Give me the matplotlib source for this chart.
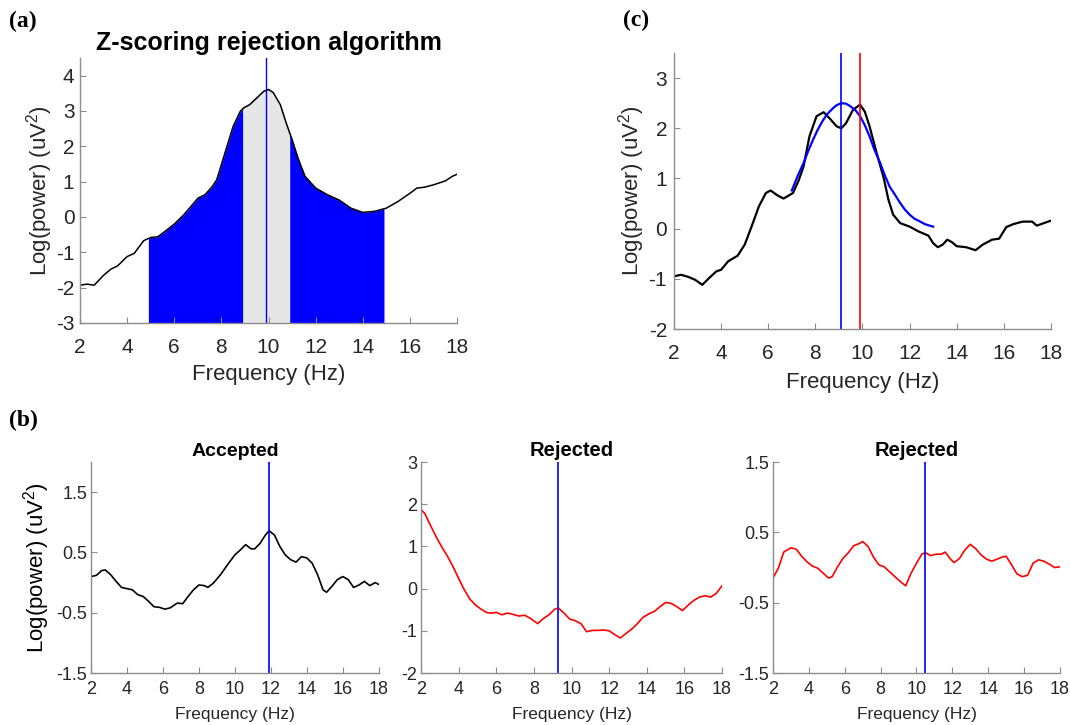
import numpy as np
import matplotlib
matplotlib.use('Agg')
import matplotlib.pyplot as plt

plt.rcParams['font.family'] = ['Liberation Sans', 'DejaVu Sans']
plt.rcParams['mathtext.fontset'] = 'custom'
plt.rcParams['mathtext.rm'] = 'Liberation Sans'
plt.rcParams['axes.unicode_minus'] = False
plt.rcParams['lines.solid_joinstyle'] = 'round'

# ---------------- datos ----------------
# (a) espectro con bandas de z-score
freq_a = [2, 2.3, 2.6, 3, 3.3, 3.6, 4, 4.3, 4.7, 5, 5.3, 5.6, 6, 6.4, 6.8, 7, 7.3, 7.6,
          7.8, 8.15, 8.5, 8.8, 8.95, 9.2, 9.5, 9.8, 10, 10.2, 10.5, 10.75, 11, 11.25, 11.55,
          12, 12.5, 13, 13.5, 14, 14.5, 15, 15.5, 16, 16.3, 16.6, 17, 17.5, 17.8, 18]
pow_a = [-1.93, -1.90, -1.93, -1.65, -1.48, -1.38, -1.12, -1.03, -0.67, -0.58, -0.56, -0.41,
         -0.20, 0.06, 0.37, 0.53, 0.63, 0.85, 1.05, 1.81, 2.57, 2.99, 3.09, 3.18, 3.37, 3.56,
         3.61, 3.52, 3.18, 2.66, 2.19, 1.67, 1.15, 0.82, 0.63, 0.48, 0.25, 0.13, 0.16, 0.25,
         0.44, 0.67, 0.82, 0.84, 0.91, 1.02, 1.15, 1.21]
pico_a = 9.9
banda_ext = [4.9, 14.9]
banda_int = [8.9, 10.9]

# (c) espectro con dos picos y ajuste
freq_c = [2, 2.3, 2.6, 2.9, 3.2, 3.5, 3.8, 4, 4.3, 4.7, 5, 5.3, 5.6, 5.9, 6.1, 6.4, 6.65,
          7.05, 7.3, 7.5, 7.75, 8.05, 8.35, 8.6, 8.9, 9.1, 9.3, 9.6, 9.9, 10.1, 10.3, 10.6,
          10.9, 11.1, 11.3, 11.6, 12, 12.4, 12.8, 13, 13.2, 13.4, 13.6, 13.8, 14, 14.4, 14.8,
          15.1, 15.5, 15.8, 16.1, 16.4, 16.8, 17.2, 17.4, 17.7, 18]
pow_c = [-0.95, -0.92, -0.96, -1.02, -1.12, -0.98, -0.85, -0.82, -0.65, -0.54, -0.32, 0.05,
         0.44, 0.71, 0.76, 0.66, 0.60, 0.71, 0.97, 1.24, 1.84, 2.24, 2.32, 2.20, 2.04, 2.00,
         2.10, 2.37, 2.47, 2.33, 2.04, 1.51, 1.01, 0.58, 0.28, 0.11, 0.04, -0.06, -0.14,
         -0.29, -0.37, -0.32, -0.22, -0.27, -0.35, -0.37, -0.43, -0.32, -0.22, -0.20, 0.03,
         0.09, 0.14, 0.14, 0.06, 0.11, 0.16]
freq_fit = [7.0, 7.25, 7.5, 7.7, 7.9, 8.1, 8.3, 8.5, 8.75, 8.9, 9.1, 9.3, 9.45, 9.7, 9.9,
            10.1, 10.3, 10.5, 10.75, 10.95, 11.15, 11.4, 11.6, 11.8, 12.0, 12.2, 12.45, 12.65,
            12.85, 13.0]
pow_fit = [0.76, 1.05, 1.31, 1.55, 1.77, 1.97, 2.14, 2.28, 2.40, 2.46, 2.50, 2.49, 2.45, 2.36,
           2.24, 2.06, 1.84, 1.58, 1.31, 1.06, 0.84, 0.66, 0.51, 0.38, 0.28, 0.20, 0.14, 0.09,
           0.06, 0.04]
pico_fit = 9.1
pico_c = 9.9

# (b) tres canales
freq_b1 = [2, 2.3, 2.6, 2.8, 3.1, 3.4, 3.7, 4.0, 4.3, 4.6, 4.9, 5.2, 5.5, 5.8, 6.1, 6.4, 6.8,
           7.1, 7.4, 7.7, 8.0, 8.3, 8.5, 8.8, 9.2, 9.6, 10.0, 10.3, 10.6, 10.9, 11.1, 11.4,
           11.7, 11.9, 12.2, 12.5, 12.8, 13.1, 13.4, 13.7, 14.0, 14.3, 14.6, 14.9, 15.1,
           15.4, 15.7, 16.0, 16.3, 16.6, 16.9, 17.2, 17.5, 17.8, 18]
pow_b1 = [0.10, 0.12, 0.20, 0.21, 0.13, 0.02, -0.08, -0.10, -0.12, -0.20, -0.23, -0.31, -0.40,
          -0.41, -0.44, -0.42, -0.34, -0.35, -0.23, -0.12, -0.04, -0.05, -0.08, -0.01, 0.13,
          0.30, 0.46, 0.54, 0.63, 0.56, 0.56, 0.65, 0.79, 0.86, 0.79, 0.60, 0.46, 0.38, 0.34,
          0.43, 0.41, 0.32, 0.13, -0.12, -0.16, -0.06, 0.05, 0.10, 0.05, -0.08, -0.04, 0.02,
          -0.05, 0.00, -0.03]
pico_b1 = 11.9

freq_b2 = [2.0, 2.2, 2.5, 2.8, 3.1, 3.4, 3.7, 4.0, 4.3, 4.6, 4.9, 5.2, 5.5, 5.8, 6.0, 6.3, 6.6,
           6.9, 7.2, 7.5, 7.8, 8.2, 8.5, 8.8, 9.1, 9.3, 9.6, 9.9, 10.2, 10.5, 10.8, 11.1, 11.4,
           11.7, 12.0, 12.3, 12.6, 12.9, 13.2, 13.5, 13.8, 14.1, 14.4, 14.7, 15.0, 15.3, 15.6,
           15.9, 16.2, 16.5, 16.8, 17.1, 17.4, 17.7, 18.0]
pow_b2 = [1.87, 1.78, 1.50, 1.23, 0.99, 0.77, 0.52, 0.24, -0.03, -0.25, -0.39, -0.49, -0.57,
          -0.58, -0.56, -0.62, -0.58, -0.61, -0.65, -0.63, -0.70, -0.83, -0.71, -0.62, -0.49,
          -0.46, -0.58, -0.72, -0.76, -0.83, -1.02, -0.99, -0.99, -0.98, -1.00, -1.09, -1.17,
          -1.06, -0.96, -0.83, -0.68, -0.60, -0.54, -0.43, -0.33, -0.35, -0.43, -0.52, -0.39,
          -0.28, -0.20, -0.17, -0.20, -0.11, 0.07]
pico_b2 = 9.3

freq_b3 = [2.0, 2.3, 2.6, 3.0, 3.3, 3.6, 3.9, 4.2, 4.5, 4.8, 5.1, 5.3, 5.6, 5.9, 6.2, 6.5, 6.8,
           7.0, 7.3, 7.6, 7.9, 8.2, 8.5, 8.8, 9.1, 9.4, 9.7, 10.0, 10.3, 10.5, 10.8, 11.1, 11.4,
           11.6, 11.9, 12.1, 12.4, 12.7, 13.0, 13.3, 13.6, 13.9, 14.2, 14.5, 14.8, 15.0, 15.3,
           15.6, 15.9, 16.2, 16.5, 16.8, 17.1, 17.4, 17.7, 18.0]
pow_b3 = [-0.15, -0.01, 0.22, 0.28, 0.26, 0.16, 0.08, 0.02, -0.01, -0.08, -0.15, -0.13, 0.01,
          0.13, 0.21, 0.31, 0.34, 0.37, 0.30, 0.15, 0.04, 0.01, -0.06, -0.13, -0.20, -0.26,
          -0.08, 0.06, 0.19, 0.21, 0.17, 0.19, 0.19, 0.22, 0.12, 0.07, 0.13, 0.25, 0.33, 0.27,
          0.18, 0.12, 0.09, 0.12, 0.15, 0.16, 0.04, -0.09, -0.13, -0.11, 0.06, 0.11, 0.09,
          0.05, 0.00, 0.01]
pico_b3 = 10.5

xticks = [2, 4, 6, 8, 10, 12, 14, 16, 18]

# ---------------- estilo tipo matlab ----------------
GRIS = '#8c8c8c'
TXT = '#262626'
AZUL = '#0000ff'
ROJO = '#ff0000'


def estilo(ax, fs_tick, pad_x, pad_y):
    for s in ['top', 'right']:
        ax.spines[s].set_visible(False)
    for s in ['left', 'bottom']:
        ax.spines[s].set_color(GRIS)
        ax.spines[s].set_linewidth(1.0)
    ax.tick_params(direction='in', length=4, color=GRIS, labelcolor=TXT, labelsize=fs_tick)
    ax.tick_params(axis='x', pad=pad_x)
    ax.tick_params(axis='y', pad=pad_y)
    ax.set_xlim(2, 18)
    ax.set_xticks(xticks)


fig = plt.figure(figsize=(10.7, 7.25), dpi=100)

# ---- (a) ----
axa = fig.add_axes([0.0748, 0.5545, 0.3523, 0.3655])
fa = np.array(freq_a)
pa = np.array(pow_a)
# rellenos: banda azul exterior y gris interior
fe = np.concatenate([[banda_ext[0]], fa[(fa > banda_ext[0]) & (fa < banda_ext[1])], [banda_ext[1]]])
pe = np.interp(fe, fa, pa)
axa.fill_between(fe, -3, pe, color=AZUL, lw=0)
fi = np.concatenate([[banda_int[0]], fa[(fa > banda_int[0]) & (fa < banda_int[1])], [banda_int[1]]])
pi_ = np.interp(fi, fa, pa)
axa.fill_between(fi, -3, pi_, color='#e6e6e6', lw=0)
axa.plot(fa, pa, color='black', lw=1.1)
axa.axvline(pico_a, color=AZUL, lw=1.0)
axa.set_ylim(-3, 4.5)
axa.set_yticks([-3, -2, -1, 0, 1, 2, 3, 4])
estilo(axa, 15, 11, 4)
axa.set_xlabel('Frequency (Hz)', fontsize=16, color=TXT, labelpad=5)
axa.set_ylabel('Log(power) (uV$^2$)', fontsize=16, color=TXT, labelpad=1)
axa.set_title('Z-scoring rejection algorithm', fontsize=18, fontweight='bold', pad=6)

# ---- (c) ----
axc = fig.add_axes([0.6299, 0.5462, 0.3523, 0.3807])
axc.plot(freq_c, pow_c, color='black', lw=1.6)
axc.plot(freq_fit, pow_fit, color=AZUL, lw=1.6)
axc.axvline(pico_fit, color=AZUL, lw=1.2)
axc.axvline(pico_c, color=ROJO, lw=1.2)
axc.set_ylim(-2, 3.5)
axc.set_yticks([-2, -1, 0, 1, 2, 3])
estilo(axc, 15, 11, 5)
axc.set_xlabel('Frequency (Hz)', fontsize=16, color=TXT, labelpad=6)
axc.set_ylabel('Log(power) (uV$^2$)', fontsize=16, color=TXT, labelpad=1)

# ---- (b) ----
axb1 = fig.add_axes([0.0850, 0.0717, 0.2690, 0.2910])
axb1.plot(freq_b1, pow_b1, color='black', lw=1.2)
axb1.axvline(pico_b1, color=AZUL, lw=1.2)
axb1.set_ylim(-1.5, 2)
axb1.set_yticks([-1.5, -0.5, 0.5, 1.5])
estilo(axb1, 13, 6, 2.5)
axb1.set_xlabel('Frequency (Hz)', fontsize=12.5, color=TXT, labelpad=6)
axb1.set_ylabel('Log(power) (uV$^2$)', fontsize=16, color='black', labelpad=3)
axb1.set_title('Accepted', fontsize=14, fontweight='bold', pad=4)

axb2 = fig.add_axes([0.3935, 0.0717, 0.2813, 0.2910])
axb2.plot(freq_b2, pow_b2, color=ROJO, lw=1.2)
axb2.axvline(pico_b2, color=AZUL, lw=1.2)
axb2.set_ylim(-2, 3)
axb2.set_yticks([-2, -1, 0, 1, 2, 3])
estilo(axb2, 13, 6, 2.5)
axb2.set_xlabel('Frequency (Hz)', fontsize=12.5, color=TXT, labelpad=6)
axb2.set_title('Rejected', fontsize=14.5, fontweight='bold', pad=4)

axb3 = fig.add_axes([0.7224, 0.0717, 0.2682, 0.2910])
axb3.plot(freq_b3, pow_b3, color=ROJO, lw=1.2)
axb3.axvline(pico_b3, color=AZUL, lw=1.2)
axb3.set_ylim(-1.5, 1.5)
axb3.set_yticks([-1.5, -0.5, 0.5, 1.5])
estilo(axb3, 13, 6, 2.5)
axb3.set_xlabel('Frequency (Hz)', fontsize=12.5, color=TXT, labelpad=6)
axb3.set_title('Rejected', fontsize=14.5, fontweight='bold', pad=4)

# etiquetas de panel
for txt, x, y in [('(a)', 0.008, 0.970), ('(c)', 0.582, 0.972), ('(b)', 0.008, 0.420)]:
    fig.text(x, y, txt, fontsize=17, fontweight='bold', family='Liberation Serif',
             va='center', ha='left')

fig.savefig('out.png', dpi=100)
